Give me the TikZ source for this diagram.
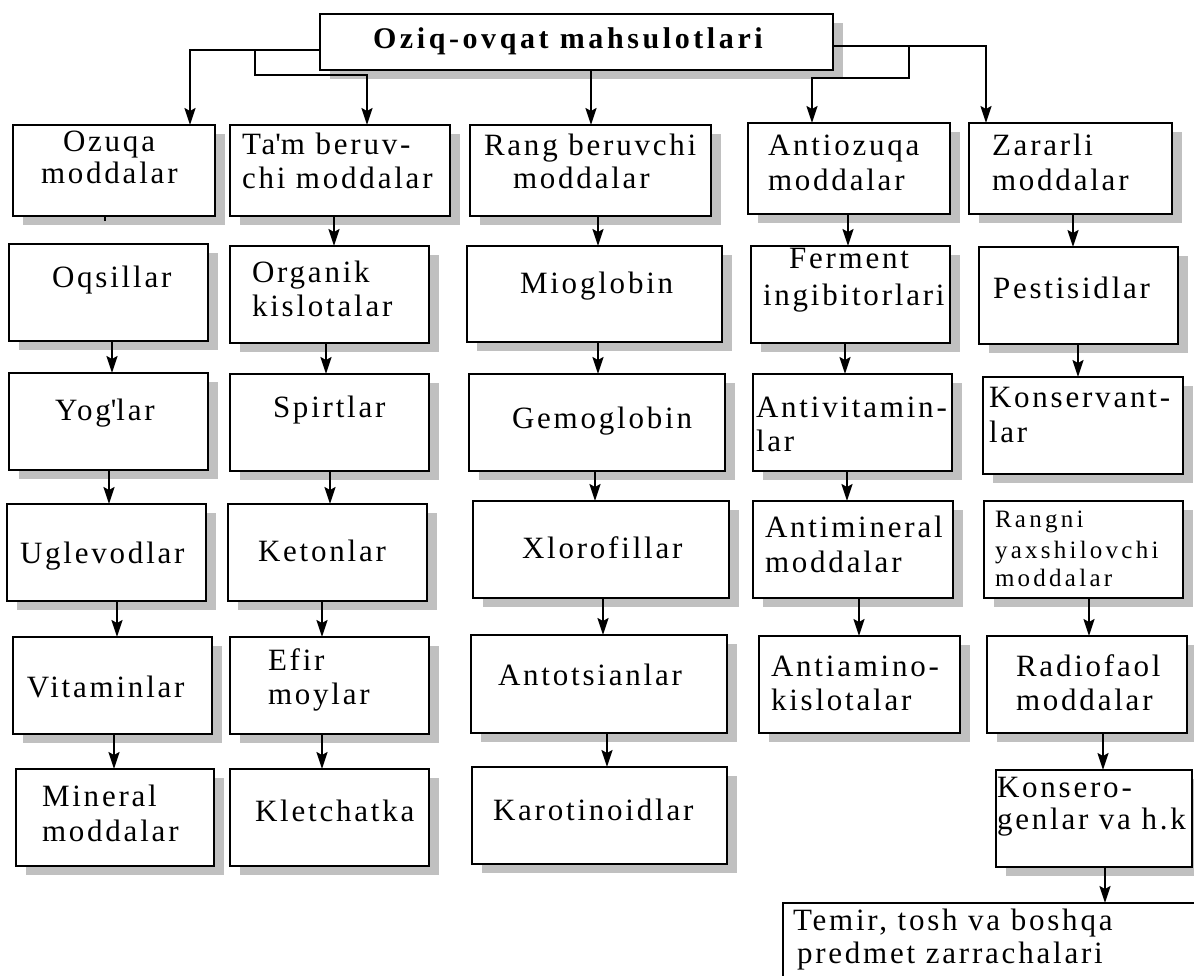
\documentclass[tikz,border=0pt]{standalone}
\usepackage{fontspec}
\setmainfont{Liberation Serif}
\newfontfamily\lsfont[LetterSpace=9]{Liberation Serif}
\newfontfamily\smfont[LetterSpace=13]{Liberation Serif}
\newfontfamily\ttlfont[LetterSpace=12]{Liberation Serif}
\usetikzlibrary{arrows.meta,shadows}
\definecolor{shd}{RGB}{192,192,192}
\tikzset{
  box/.style={draw, line width=2.4pt, fill=white, inner sep=0pt, outer sep=0pt,
    drop shadow={shadow xshift=10pt, shadow yshift=-9pt, fill=shd, opacity=1}},
  plainbox/.style={draw, line width=2.4pt, fill=white, inner sep=0pt, outer sep=0pt},
  txt/.style={anchor=base west, inner sep=0pt, outer sep=0pt, font=\lsfont\fontsize{31}{36}\selectfont},
  smtxt/.style={anchor=base west, inner sep=0pt, outer sep=0pt, font=\smfont\fontsize{25}{29}\selectfont},
  ttl/.style={anchor=base west, inner sep=0pt, outer sep=0pt, font=\ttlfont\bfseries\fontsize{30}{34}\selectfont},
  arr/.style={line width=2pt, -{Stealth[length=17pt,width=11pt,inset=3pt]}},
}
\newcommand{\bx}[6][box]{\node[#1, minimum width={(#5-#3)*1pt}, minimum height={(#6-#4)*1pt}] (#2) at ({(#3+#5)/2},{(#4+#6)/2}) {};}
\newcommand{\tx}[5][txt]{\node[#1] (#2) at (#3,#4) {#5};}
\newcommand{\conn}[3]{\draw[arr] (#1.south -| #3,0) -- (#2.north -| #3,0);}
\begin{document}
\begin{tikzpicture}[x=1pt,y=-1pt]
\clip (0,0) rectangle (1194,975);
\fill[white] (0,0) rectangle (1194,975);
% boxes
\bx{title}{320}{14}{833}{70}
\bx{oz}{13}{125}{215}{216}
\bx{tam}{230}{125}{450}{216}
\bx{rang}{470}{125}{711}{216}
\bx{anti}{748}{123}{950}{214}
\bx{zar}{969}{123}{1172}{214}
\bx{oqs}{9}{244}{208}{341}
\bx{org}{230}{246}{429}{343}
\bx{mio}{467}{246}{722}{342}
\bx{fer}{751}{246}{950}{343}
\bx{pes}{979}{247}{1178}{344}
\bx{yog}{9}{373}{208}{470}
\bx{spi}{230}{374}{429}{471}
\bx{gem}{469}{374}{725}{471}
\bx{antv}{753}{374}{952}{471}
\bx{kon}{983}{377}{1183}{474}
\bx{ugl}{7}{504}{206}{601}
\bx{ket}{228}{504}{427}{601}
\bx{xlo}{473}{501}{729}{598}
\bx{antm}{753}{501}{953}{598}
\bx{rng}{984}{501}{1183}{598}
\bx{vit}{13}{637}{212}{734}
\bx{efi}{230}{637}{429}{734}
\bx{ants}{471}{635}{727}{733}
\bx{anta}{759}{636}{960}{733}
\bx{rad}{987}{636}{1187}{733}
\bx{min}{16}{769}{214}{866}
\bx{kle}{230}{769}{429}{866}
\bx{kar}{472}{767}{727}{864}
\bx{kser}{996}{770}{1192}{867}
\bx[plainbox]{temir}{783}{903}{1230}{1010}
% texts
\tx[ttl]{ttitle}{373}{48}{Oziq-ovqat mahsulotlari}
\tx{toz1}{63}{151}{Ozuqa}
\tx{toz2}{41}{183}{moddalar}
\tx{ttam1}{242}{154}{Ta\textquotesingle m beruv-}
\tx{ttam2}{242}{188}{chi moddalar}
\tx{trang1}{484}{155}{Rang beruvchi}
\tx{trang2}{513}{188}{moddalar}
\tx{tanti1}{768}{155}{Antiozuqa}
\tx{tanti2}{768}{190}{moddalar}
\tx{tzar1}{992}{155}{Zararli}
\tx{tzar2}{992}{190}{moddalar}
\tx{toqs}{52}{287}{Oqsillar}
\tx{torg1}{252}{282}{Organik}
\tx{torg2}{252}{316}{kislotalar}
\tx{tmio}{520}{293}{Mioglobin}
\tx{tfer1}{789}{268}{Ferment}
\tx{tfer2}{763}{305}{ingibitorlari}
\tx{tpes}{993}{298}{Pestisidlar}
\tx{tyog}{55}{420}{Yog\textquotesingle lar}
\tx{tspi}{273}{417}{Spirtlar}
\tx{tgem}{512}{428}{Gemoglobin}
\tx{tantv1}{756}{417}{Antivitamin-}
\tx{tantv2}{756}{451}{lar}
\tx{tkon1}{989}{407}{Konservant-}
\tx{tkon2}{989}{442}{lar}
\tx{tugl}{20}{563}{Uglevodlar}
\tx{tket}{258}{561}{Ketonlar}
\tx{txlo}{522}{558}{Xlorofillar}
\tx{tantm1}{765}{537}{Antimineral}
\tx{tantm2}{765}{572}{moddalar}
\tx[smtxt]{trng1}{995}{527}{Rangni}
\tx[smtxt]{trng2}{995}{558}{yaxshilovchi}
\tx[smtxt]{trng3}{995}{586}{moddalar}
\tx{tvit}{27}{697}{Vitaminlar}
\tx{tefi1}{268}{670}{Efir}
\tx{tefi2}{268}{704}{moylar}
\tx{tants}{498}{685}{Antotsianlar}
\tx{tanta1}{771}{676}{Antiamino-}
\tx{tanta2}{771}{710}{kislotalar}
\tx{trad1}{1016}{676}{Radiofaol}
\tx{trad2}{1016}{710}{moddalar}
\tx{tmin1}{42}{806}{Mineral}
\tx{tmin2}{42}{841}{moddalar}
\tx{tkle}{255}{821}{Kletchatka}
\tx{tkar}{493}{820}{Karotinoidlar}
\tx{tkser1}{997}{797}{Konsero-}
\tx{tkser2}{997}{829}{genlar va h.k}
\tx{ttemir1}{793}{930}{Temir, tosh va boshqa}
\tx{ttemir2}{797}{963}{predmet zarrachalari}
% top connectors
\coordinate (jL) at (255,50);
\coordinate (jR) at (909,46);
\draw[arr] (title.west |- 0,50) -| (oz.north -| 190,0);
\draw[arr] (jL) -- (255,75) -| (tam.north -| 367,0);
\draw[arr] (title.south -| 591,0) -- (rang.north -| 591,0);
\draw[arr] (title.east |- 0,46) -| (zar.north -| 986,0);
\draw[arr] (jR) -- (909,78) -| (anti.north -| 812,0);
\draw[line width=2pt] (oz.south -| 105,0) -- ++(0,5);
% column connectors
\conn{oqs}{yog}{112}
\conn{yog}{ugl}{109}
\conn{ugl}{vit}{117}
\conn{vit}{min}{114}
\conn{tam}{org}{334}
\conn{org}{spi}{326}
\conn{spi}{ket}{330}
\conn{ket}{efi}{322}
\conn{efi}{kle}{322}
\conn{rang}{mio}{598}
\conn{mio}{gem}{598}
\conn{gem}{xlo}{595}
\conn{xlo}{ants}{603}
\conn{ants}{kar}{607}
\conn{anti}{fer}{848}
\conn{fer}{antv}{845}
\conn{antv}{antm}{847}
\conn{antm}{anta}{859}
\conn{zar}{pes}{1073}
\conn{pes}{kon}{1078}
\conn{rng}{rad}{1089}
\conn{rad}{kser}{1103}
\conn{kser}{temir}{1105}
\end{tikzpicture}
\end{document}
